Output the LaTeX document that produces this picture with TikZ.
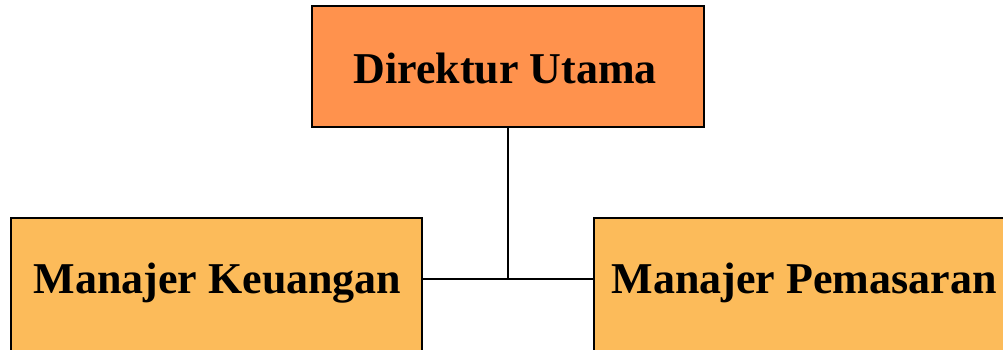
\documentclass[tikz,border=0pt]{standalone}
\usepackage{fontspec}
\setmainfont{Liberation Serif}
\definecolor{topfill}{RGB}{255,146,77}
\definecolor{subfill}{RGB}{252,187,90}
\begin{document}
\begin{tikzpicture}[x=1pt,y=-1pt,
  box/.style={draw=black,line width=2pt,rectangle,inner sep=0pt},
  lbl/.style={anchor=base,inner sep=0pt,font=\fontsize{44}{50}\selectfont\bfseries},
  conn/.style={draw=black,line width=2pt}]
\useasboundingbox (0,0) rectangle (1003,349);
\clip (0,0) rectangle (1003,349);
\node[box,fill=topfill,minimum width=392pt,minimum height=121pt] (top) at (508,66.5) {};
\node[box,fill=subfill,minimum width=411pt,minimum height=170pt] (L) at (216.5,303) {};
\node[box,fill=subfill,minimum width=411pt,minimum height=170pt] (R) at (799.5,303) {};
\node[lbl] (tt) at (505,83) {Direktur Utama};
\node[lbl] (lt) at (217.5,293) {Manajer Keuangan};
\node[lbl] (rt) at (804,293) {Manajer Pemasaran};
\coordinate (j) at (508,279);
\draw[conn] (top.south) -- (j);
\draw[conn] (L.east |- j) -- (R.west |- j);
\end{tikzpicture}
\end{document}
